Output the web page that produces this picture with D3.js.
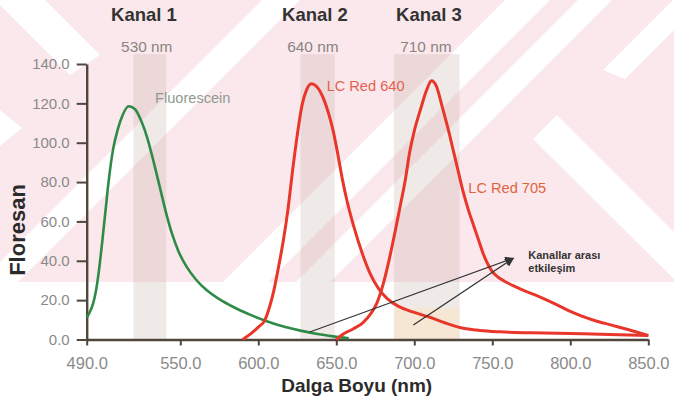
<!DOCTYPE html>
<html>
<head>
<meta charset="utf-8">
<script src="https://cdn.jsdelivr.net/npm/d3@7"></script>
<style>
  body { margin: 0; background: #fff; }
  svg { display: block; }
</style>
</head>
<body>
<div id="chart"></div>
<script>
// size of the picture and the plot area
const WIDTH = 674;
const HEIGHT = 398;
const X_RANGE = [86.7, 648.3];
const Y_RANGE = [339.5, 64];

// axis ticks
const xTicks = [490, 550, 600, 650, 700, 750, 800, 850];
const yTicks = [0, 20, 40, 60, 80, 100, 120, 140];

// the three detection channels (nm)
const channelNames = ["Kanal 1", "Kanal 2", "Kanal 3"];
const channelWaves = ["530 nm", "640 nm", "710 nm"];
const channelNameX = [526.7, 636.3, 709.4];
const channelWaveX = [528.5, 635, 707.4];
const bandStart = [520, 627, 687];
const bandEnd = [541, 649, 729];
const bandTop = 145;

// emission spectra, [wavelength nm, fluorescence]
const fluorescein = [
  [490, 11], [492, 14], [494, 18], [496, 25], [498, 36], [500, 50], [502, 65],
  [504, 80], [507, 97], [510, 107], [513, 114], [517, 118.5], [521, 117],
  [525, 111], [529, 102], [533, 90], [537, 77], [541, 64], [545, 53], [549, 44.5],
  [554, 37], [560, 30.5], [567, 25], [575, 20.5], [584, 16.5], [595, 12.5],
  [605, 9.4], [615, 6.8], [627, 4.5], [638, 2.8], [648, 1.6], [658, 0.6]
];
const lcRed640 = [
  [590, 0], [596, 3.5], [600, 6.3], [604, 9.5], [607, 16], [610, 25], [613, 37],
  [616, 50], [619, 66], [622, 86], [625, 104], [628, 119], [631, 127], [634, 130],
  [638, 128], [642, 122], [645, 115], [648, 106], [651, 94], [654, 81], [657, 70],
  [661, 58], [667, 43], [672, 33], [677, 26], [683, 20.5], [690, 16.8], [699, 14],
  [710, 11.3], [720, 8.4], [730, 6], [742, 4.6], [755, 3.9], [775, 3.4], [800, 3],
  [825, 2.6], [850, 2]
];
const lcRed705 = [
  [650, 0], [655, 3], [661, 5.5], [667, 8.5], [672, 13], [676, 18.5], [680, 28],
  [684, 41], [688, 56], [691, 68], [694, 80], [697, 95], [700, 106], [704, 117],
  [708, 127], [711, 131.5], [714, 129], [718, 118], [722, 106], [725, 96], [728, 86],
  [731, 76], [735, 65], [738, 58], [741, 51], [744, 44], [747, 38.5], [750, 34.5],
  [754, 31.5], [758, 29.5], [763, 27.5], [770, 25], [777, 22.8], [785, 20],
  [793, 17], [800, 14.3], [807, 12], [815, 9.8], [827, 7.2], [838, 4.8], [850, 2]
];

// curve labels
const curveLabels = ["Fluorescein", "LC Red 640", "LC Red 705"];
const curveLabelX = [533.8, 643.8, 734.6];
const curveLabelY = [120.2, 126.4, 74.6];
const curveLabelColors = ["#8f9a8f", "#e4604e", "#df6440"];

// "Kanallar arası etkileşim" arrows: start points and common tip
const arrowStarts = [[633, 3.8], [699.4, 7.4]];
const arrowTip = [763.5, 41.3];

const svg = d3.select("#chart")
  .append("svg")
  .attr("width", WIDTH)
  .attr("height", HEIGHT);

const x = d3.scaleLinear().domain([490, 850]).range(X_RANGE);
const y = d3.scaleLinear().domain([0, 140]).range(Y_RANGE);

//watermark behind the chart (pink with white diagonal bands)
const wm = svg.append("g");
wm.append("clipPath").attr("id", "wmclip")
  .append("rect").attr("width", WIDTH).attr("height", 282);
wm.append("rect").attr("width", WIDTH).attr("height", 282).attr("fill", "#fbe8ec");
const wmBands = wm.append("g").attr("clip-path", "url(#wmclip)").attr("fill", "#fff");
// bands along x+y = const
[[262, 300], [505, 550], [578, 612]].forEach(b => {
  wmBands.append("polygon")
    .attr("points", `${b[0]},0 ${b[1]},0 ${b[1] - 282},282 ${b[0] - 282},282`);
});
// bands along x-y = const
wmBands.append("polygon").attr("points", "0,0 45,0 100,55 70,75 0,5");
wmBands.append("polygon").attr("points", "0,110 22,128 0,146");
wmBands.append("polygon").attr("points", "533,139 557,115 724,282 677,282");
wmBands.append("polygon").attr("points", "603,70 674,-1 674,30 625,79");

//channel bands
const bands = svg.append("g");
bands.selectAll("rect.band")
  .data(bandStart)
  .enter()
  .append("rect")
  .attr("class", "band")
  .attr("x", (d) => x(d))
  .attr("width", (d, i) => x(bandEnd[i]) - x(d))
  .attr("y", y(bandTop))
  .attr("height", y(0) - y(bandTop))
  .attr("fill", "#bda99b")
  .attr("opacity", 0.24);

// pale peach foot of the third band
bands.append("rect")
  .attr("x", x(bandStart[2]))
  .attr("width", x(bandEnd[2]) - x(bandStart[2]))
  .attr("y", y(16))
  .attr("height", y(0) - y(16))
  .attr("fill", "#f7e6cc")
  .attr("opacity", 0.75);

//channel titles
svg.selectAll("text.kanal")
  .data(channelNames)
  .enter()
  .append("text")
  .attr("class", "kanal")
  .attr("x", (d, i) => x(channelNameX[i]))
  .attr("y", 20.7)
  .attr("text-anchor", "middle")
  .attr("font-family", "Liberation Sans, Arial, sans-serif")
  .attr("font-weight", "bold")
  .attr("font-size", 18.5)
  .attr("fill", "#333")
  .text((d) => d);

svg.selectAll("text.wave")
  .data(channelWaves)
  .enter()
  .append("text")
  .attr("class", "wave")
  .attr("x", (d, i) => x(channelWaveX[i]))
  .attr("y", 51.7)
  .attr("text-anchor", "middle")
  .attr("font-family", "Liberation Sans, Arial, sans-serif")
  .attr("font-size", 15.4)
  .attr("fill", "#8a8480")
  .text((d) => d);

//axes
const gX = svg.append("g").attr("transform", "translate(0," + y(0) + ")");
gX.call(d3.axisBottom(x)
  .tickValues(xTicks)
  .tickFormat(d3.format(".1f"))
  .tickSize(6)
  .tickSizeOuter(0)
  .tickPadding(12));

const gY = svg.append("g").attr("transform", "translate(" + x(490) + ",0)");
gY.call(d3.axisLeft(y)
  .tickValues(yTicks)
  .tickFormat(d3.format(".1f"))
  .tickSize(10)
  .tickSizeOuter(0)
  .tickPadding(7));

[gX, gY].forEach(g => {
  g.select(".domain").attr("stroke", "#4f463c").attr("stroke-width", 2.4);
  g.selectAll(".tick line").attr("stroke", "#4f463c").attr("stroke-width", 2);
  g.selectAll(".tick text")
    .attr("font-family", "Liberation Sans, Arial, sans-serif")
    .attr("fill", "#8a8a8a");
});
gX.selectAll(".tick text").attr("font-size", 16.5);
gY.selectAll(".tick text").attr("font-size", 15);

//axis titles
svg.append("text")
  .attr("x", 356.7)
  .attr("y", 391.7)
  .attr("text-anchor", "middle")
  .attr("font-family", "Liberation Sans, Arial, sans-serif")
  .attr("font-weight", "bold")
  .attr("font-size", 19)
  .attr("fill", "#2b2b2b")
  .text("Dalga Boyu (nm)");

svg.append("text")
  .attr("transform", "translate(25,230) rotate(-90)")
  .attr("text-anchor", "middle")
  .attr("font-family", "Liberation Sans, Arial, sans-serif")
  .attr("font-weight", "bold")
  .attr("font-size", 22)
  .attr("fill", "#2b2b2b")
  .text("Floresan");

//spectra
const line = d3.line()
  .x((d) => x(d[0]))
  .y((d) => y(d[1]))
  .curve(d3.curveMonotoneX);

svg.append("path")
  .datum(fluorescein)
  .attr("fill", "none")
  .attr("stroke", "#2e8a47")
  .attr("stroke-width", 2.6)
  .attr("d", line);

[lcRed640, lcRed705].forEach(s => {
  svg.append("path")
    .datum(s)
    .attr("fill", "none")
    .attr("stroke", "#e8372a")
    .attr("stroke-width", 3)
    .attr("stroke-linejoin", "round")
    .attr("d", line);
});

//curve labels
svg.selectAll("text.curve")
  .data(curveLabels)
  .enter()
  .append("text")
  .attr("class", "curve")
  .attr("x", (d, i) => x(curveLabelX[i]))
  .attr("y", (d, i) => y(curveLabelY[i]))
  .attr("font-family", "Liberation Sans, Arial, sans-serif")
  .attr("font-size", 14.6)
  .attr("fill", (d, i) => curveLabelColors[i])
  .text((d) => d);

//arrows to the crosstalk note
svg.append("defs").append("marker")
  .attr("id", "head")
  .attr("viewBox", "0 0 10 10")
  .attr("refX", 9)
  .attr("refY", 5)
  .attr("markerWidth", 9)
  .attr("markerHeight", 9)
  .attr("markerUnits", "userSpaceOnUse")
  .attr("orient", "auto")
  .append("path")
  .attr("d", "M0,0 L10,5 L0,10 Z")
  .attr("fill", "#333");

svg.selectAll("line.arrow")
  .data(arrowStarts)
  .enter()
  .append("line")
  .attr("class", "arrow")
  .attr("x1", (d) => x(d[0]))
  .attr("y1", (d) => y(d[1]))
  .attr("x2", x(arrowTip[0]))
  .attr("y2", y(arrowTip[1]))
  .attr("stroke", "#333")
  .attr("stroke-width", (d, i) => i === 0 ? 1.1 : 1.3)
  .attr("marker-end", "url(#head)");

const note = svg.append("text")
  .attr("font-family", "Liberation Sans, Arial, sans-serif")
  .attr("font-weight", "bold")
  .attr("font-size", 10)
  .attr("fill", "#333");
note.append("tspan").attr("x", x(773.1)).attr("y", y(40.9))
  .attr("textLength", 72).attr("lengthAdjust", "spacingAndGlyphs")
  .text("Kanallar arası");
note.append("tspan").attr("x", x(773.1)).attr("y", y(34.5))
  .attr("textLength", 47).attr("lengthAdjust", "spacingAndGlyphs")
  .text("etkileşim");
</script>
</body>
</html>
